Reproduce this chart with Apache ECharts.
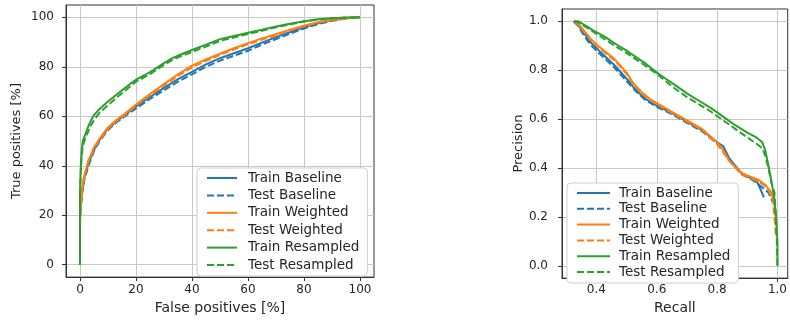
<!DOCTYPE html>
<html>
<head>
<meta charset="utf-8">
<script src="https://cdn.jsdelivr.net/npm/echarts@6/dist/echarts.min.js"></script>
<style>
  html, body { margin: 0; padding: 0; background: #fff; }
  #chart { width: 790px; height: 320px; }
</style>
</head>
<body>
<div id="chart"></div>
<script>
// ROC 曲线：[假阳性 %, 真阳性 %]
const rocTrainBaseline = [[0,0],[0,18],[0.2,23],[0.8,30],[1.5,35],[3,41],[5,46.5],[7,50.5],[10,55],[13,58],[16,60.5],[20,64],[25,67.8],[30,71.5],[35,75],[40,78],[45,81],[50,83.5],[55,85.5],[60,87.5],[65,89.8],[70,92],[75,94],[80,96],[85,97.6],[90,98.8],[95,99.6],[100,100]];
const rocTestBaseline = [[0,0],[0,17],[0.2,22],[0.8,29],[1.5,34],[3,40],[5,46],[7,50],[10,54.5],[13,57.5],[16,60],[20,63.2],[25,67],[30,70.5],[35,74],[40,77],[45,80],[50,82.5],[55,84.5],[60,86.5],[65,89],[70,91.2],[75,93.4],[80,95.5],[85,97.3],[90,98.6],[95,99.5],[100,100]];
const rocTrainWeighted = [[0,0],[0,19],[0.2,24],[0.8,31],[1.5,36],[3,42],[5,47.5],[7,51],[10,55.5],[13,58.5],[16,61],[20,64.8],[25,69],[30,73],[35,77],[40,80.5],[45,83],[50,85.3],[55,87.5],[60,89.6],[65,91.5],[70,93.2],[75,95],[80,96.6],[85,98],[90,99],[95,99.6],[100,100]];
const rocTestWeighted = [[0,0],[0,18],[0.2,23],[0.8,30],[1.5,35.5],[3,41.5],[5,47],[7,50.5],[10,55],[13,58],[16,60.5],[20,64.3],[25,68.5],[30,72.4],[35,76.3],[40,79.8],[45,82.4],[50,84.8],[55,87],[60,89.1],[65,91],[70,92.8],[75,94.7],[80,96.4],[85,97.9],[90,98.9],[95,99.6],[100,100]];
const rocTrainResampled = [[0,0],[0,30],[0.3,40],[0.6,46],[1,50],[2,53],[3,56],[4,58.5],[5,60.5],[7,63],[10,66],[13,68.7],[16,71.4],[18,73.2],[20,74.8],[23,76.6],[26,78.6],[30,81.5],[33,83.5],[36,85],[40,86.8],[45,89],[50,91.2],[55,92.5],[60,93.8],[65,95],[70,96.3],[75,97.4],[80,98.4],[85,99.2],[90,99.6],[95,99.9],[100,100]];
const rocTestResampled = [[0,0],[0,28],[0.3,38],[0.6,44],[1,48],[2,51.5],[3,54],[4,56.5],[5,58.5],[7,61.5],[10,64.5],[13,67.5],[16,70.2],[18,72.2],[20,74],[23,75.8],[26,77.8],[30,80.8],[33,82.8],[36,84.3],[40,86],[45,88.2],[50,90.5],[55,91.9],[60,93.3],[65,94.6],[70,96],[75,97.2],[80,98.3],[85,99.1],[90,99.6],[95,99.9],[100,100]];

// PR 曲线：[召回率, 精确率]
const prTrainBaseline = [[0.325,1.0],[0.34,0.985],[0.36,0.95],[0.38,0.915],[0.4,0.89],[0.43,0.855],[0.46,0.82],[0.5,0.765],[0.53,0.72],[0.56,0.685],[0.6,0.655],[0.65,0.625],[0.7,0.59],[0.75,0.555],[0.8,0.505],[0.82,0.49],[0.84,0.44],[0.86,0.41],[0.88,0.38],[0.91,0.36],[0.93,0.35],[0.945,0.31],[0.955,0.28]];
const prTestBaseline = [[0.325,1.0],[0.34,0.98],[0.36,0.94],[0.38,0.905],[0.4,0.88],[0.43,0.845],[0.46,0.81],[0.5,0.755],[0.53,0.715],[0.56,0.68],[0.6,0.65],[0.65,0.62],[0.7,0.585],[0.75,0.55],[0.8,0.5],[0.84,0.435],[0.88,0.375],[0.92,0.35],[0.95,0.32],[0.97,0.3],[0.985,0.26]];
const prTrainWeighted = [[0.325,1.0],[0.34,0.99],[0.36,0.96],[0.38,0.93],[0.4,0.905],[0.43,0.875],[0.46,0.845],[0.5,0.79],[0.52,0.75],[0.55,0.71],[0.58,0.68],[0.6,0.665],[0.65,0.63],[0.7,0.595],[0.75,0.56],[0.8,0.505],[0.82,0.475],[0.84,0.43],[0.86,0.405],[0.88,0.38],[0.91,0.365],[0.94,0.35],[0.96,0.33],[0.98,0.3],[0.99,0.25],[0.995,0.2]];
const prTestWeighted = [[0.325,1.0],[0.34,0.985],[0.36,0.955],[0.38,0.925],[0.4,0.9],[0.43,0.87],[0.46,0.84],[0.5,0.785],[0.52,0.745],[0.55,0.705],[0.58,0.675],[0.6,0.66],[0.65,0.625],[0.7,0.59],[0.75,0.555],[0.8,0.5],[0.84,0.43],[0.88,0.375],[0.92,0.355],[0.95,0.335],[0.97,0.31],[0.985,0.27],[0.99,0.2],[0.995,0.12]];
const prTrainResampled = [[0.325,1.0],[0.34,1.0],[0.36,0.985],[0.38,0.97],[0.4,0.955],[0.43,0.935],[0.46,0.91],[0.5,0.88],[0.53,0.855],[0.56,0.83],[0.6,0.79],[0.63,0.765],[0.66,0.74],[0.7,0.705],[0.74,0.675],[0.78,0.645],[0.82,0.61],[0.86,0.575],[0.9,0.545],[0.93,0.525],[0.95,0.505],[0.96,0.47],[0.97,0.41],[0.978,0.36],[0.989,0.28],[0.996,0.19],[1.0,0.1],[1.0,0.0]];
const prTestResampled = [[0.325,1.0],[0.34,0.995],[0.36,0.98],[0.38,0.965],[0.4,0.948],[0.43,0.925],[0.46,0.9],[0.5,0.87],[0.53,0.845],[0.56,0.82],[0.6,0.785],[0.63,0.755],[0.66,0.725],[0.7,0.69],[0.74,0.66],[0.78,0.63],[0.82,0.595],[0.86,0.56],[0.9,0.525],[0.93,0.5],[0.95,0.48],[0.96,0.45],[0.97,0.4],[0.98,0.34],[0.99,0.3],[0.995,0.2],[0.998,0.1],[1.0,0.0]];

const seriesNames = ['Train Baseline', 'Test Baseline', 'Train Weighted', 'Test Weighted', 'Train Resampled', 'Test Resampled'];
const rocTicks = [0, 20, 40, 60, 80, 100];
const prRecallTicks = [0.4, 0.6, 0.8, 1.0];
const prPrecisionTicks = [0, 0.2, 0.4, 0.6, 0.8, 1.0];

const COLORS = ['#1f77b4', '#1f77b4', '#ff7f0e', '#ff7f0e', '#2ca02c', '#2ca02c'];
const FONT = 'DejaVu Sans';
const TEXT = '#262626';

const rocData = [rocTrainBaseline, rocTestBaseline, rocTrainWeighted, rocTestWeighted, rocTrainResampled, rocTestResampled];
const prData = [prTrainBaseline, prTestBaseline, prTrainWeighted, prTestWeighted, prTrainResampled, prTestResampled];

function mkAxis(grid, min, max, ticks, name, gap, isY, fmt, labelMargin) {
  return {
    type: 'value', gridIndex: grid, min, max,
    splitNumber: isY ? 5 : (grid === 1 ? 4 : 5),
    name, nameLocation: 'middle', nameGap: gap,
    nameTextStyle: { fontFamily: FONT, fontSize: isY ? 13 : 14, color: TEXT },
    axisLine: { show: true, onZero: false, lineStyle: { color: '#333', width: 1 } },
    axisTick: { show: true, customValues: ticks, length: 4, inside: false, lineStyle: { color: '#333' } },
    axisLabel: { customValues: ticks, formatter: fmt, fontFamily: FONT, fontSize: 12, color: TEXT, margin: labelMargin },
    splitLine: { show: true, lineStyle: { color: '#c8c8c8', width: 1 } },
  };
}

function mkSeries(data, grid) {
  return data.map((d, i) => ({
    name: seriesNames[i], type: 'line', data: d,
    xAxisIndex: grid, yAxisIndex: grid,
    symbol: 'none', animation: false, silent: true,
    lineStyle: { color: COLORS[i], width: 2, type: i % 2 ? [7, 3] : 'solid' },
    itemStyle: { color: COLORS[i] },
  }));
}

// 图例：只画线，不画圆点
function mkLegend(left, top, gap, iconW, textPad) {
  return {
    orient: 'vertical', left, top, data: seriesNames,
    itemWidth: iconW, itemHeight: 14, itemGap: gap,
    padding: [3, 8, 4, 9],
    backgroundColor: '#fff', borderColor: '#cfcfcf', borderWidth: 1, borderRadius: 4,
    itemStyle: { opacity: 0 },
    lineStyle: { width: 2 },
    textStyle: { fontFamily: FONT, fontSize: 13.5, color: TEXT, lineHeight: 14, padding: [0, 0, 0, textPad] },
    selectedMode: false,
  };
}

const chart = echarts.init(document.getElementById('chart'), null, { renderer: 'canvas' });
chart.setOption({
  backgroundColor: '#fff',
  animation: false,
  grid: [
    { left: 66, top: 5, width: 308, height: 278, show: true, borderColor: '#333', borderWidth: 1, backgroundColor: 'transparent' },
    { left: 562, top: 9, width: 234, height: 278, show: true, borderColor: '#333', borderWidth: 1, backgroundColor: 'transparent' },
  ],
  xAxis: [
    mkAxis(0, -5, 105, rocTicks, 'False positives [%]', 20, false, v => String(v), 7),
    mkAxis(1, 0.286, 1.034, prRecallTicks, 'Recall', 18, false, v => v.toFixed(1), 6),
  ],
  yAxis: [
    mkAxis(0, -5, 105, rocTicks, 'True positives [%]', 43, true, v => String(v), 12),
    mkAxis(1, -0.05, 1.05, prPrecisionTicks, 'Precision', 35, true, v => v.toFixed(1), 14),
  ],
  legend: [
    mkLegend(197, 168, 3.4, 30, 6),
    mkLegend(567, 183, 1.8, 33, 4),
  ],
  series: [...mkSeries(rocData, 0), ...mkSeries(prData, 1)],
});
</script>
</body>
</html>
